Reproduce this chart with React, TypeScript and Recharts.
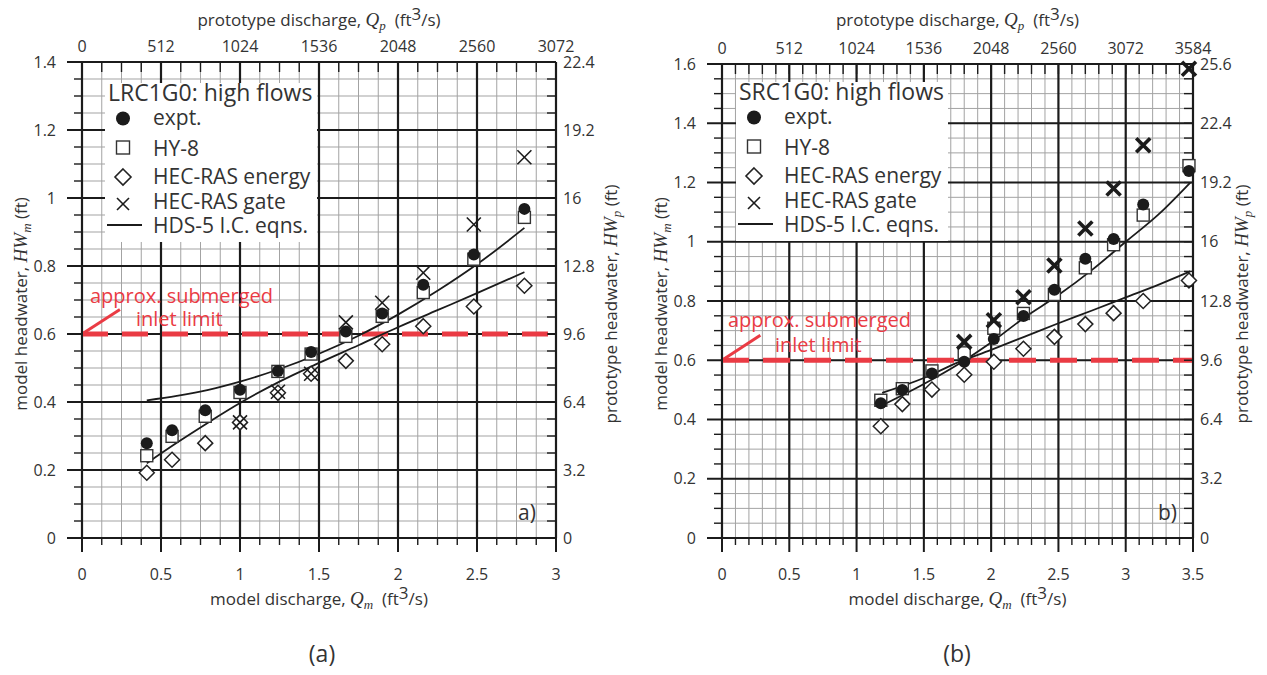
import React from 'react';
import { ComposedChart, Scatter, Line, XAxis, YAxis, CartesianGrid, ReferenceLine, Legend } from 'recharts';

const FONT = '"Open Sans", "Liberation Sans", sans-serif';
const MATH = '"Liberation Serif", "DejaVu Serif", serif';
const INK = '#1b1b1b';
const TXT = '#333';
const RED = '#ea3b44';
const Q_SCALE = 1024; // prototype / model discharge
const H_SCALE = 16; // prototype / model headwater

// (a) LRC1G0: model discharge Qm (ft3/s) vs model headwater HWm (ft)
const qmA = [0.41, 0.57, 0.78, 1.0, 1.24, 1.45, 1.67, 1.9, 2.16, 2.48, 2.8];
const exptA = [0.279, 0.317, 0.376, 0.436, 0.491, 0.547, 0.607, 0.66, 0.745, 0.834, 0.968];
const hy8A = [0.242, 0.299, 0.358, 0.428, 0.49, 0.541, 0.593, 0.652, 0.722, 0.82, 0.943];
const energyA = [0.192, 0.23, 0.279, 0.34, 0.427, 0.483, 0.521, 0.57, 0.623, 0.681, 0.742];
const gateQmA = [1.0, 1.24, 1.45, 1.67, 1.9, 2.16, 2.48, 2.8];
const gateA = [0.34, 0.43, 0.483, 0.634, 0.692, 0.78, 0.922, 1.12];
const hdsQmA = [0.41, 0.6, 0.8, 1.0, 1.25, 1.5, 1.75, 2.0, 2.25, 2.5, 2.8];
const hdsSubA = [0.405, 0.418, 0.436, 0.46, 0.497, 0.542, 0.595, 0.657, 0.727, 0.805, 0.912];
const hdsUnsubA = [0.22, 0.28, 0.34, 0.397, 0.46, 0.515, 0.567, 0.62, 0.67, 0.72, 0.782];

// (b) SRC1G0
const qmB = [1.18, 1.34, 1.56, 1.8, 2.02, 2.24, 2.47, 2.7, 2.91, 3.13, 3.47];
const exptB = [0.455, 0.5, 0.555, 0.595, 0.672, 0.749, 0.838, 0.943, 1.009, 1.126, 1.239];
const hy8B = [0.465, 0.504, 0.564, 0.625, 0.708, 0.758, 0.822, 0.912, 0.99, 1.09, 1.257];
const energyB = [0.377, 0.452, 0.501, 0.551, 0.595, 0.639, 0.679, 0.722, 0.759, 0.8, 0.869];
const gateQmB = [1.8, 2.02, 2.24, 2.47, 2.7, 2.91, 3.13, 3.47];
const gateB = [0.662, 0.735, 0.813, 0.92, 1.045, 1.18, 1.326, 1.584];
const hdsQmB = [1.19, 1.5, 1.75, 2.0, 2.25, 2.5, 2.75, 3.0, 3.25, 3.48];
const hdsSubB = [0.448, 0.52, 0.585, 0.66, 0.745, 0.82, 0.905, 1.0, 1.095, 1.2];
const hdsUnsubB = [0.49, 0.54, 0.592, 0.635, 0.68, 0.725, 0.768, 0.812, 0.856, 0.9];

// ticks
const xMajorA = [0, 0.5, 1, 1.5, 2, 2.5, 3];
const yMajorA = [0, 0.2, 0.4, 0.6, 0.8, 1, 1.2, 1.4];
const xMajorB = [0, 0.5, 1, 1.5, 2, 2.5, 3, 3.5];
const yMajorB = [0, 0.2, 0.4, 0.6, 0.8, 1, 1.2, 1.4, 1.6];

const legendNames = ['expt.', 'HY-8', 'HEC-RAS energy', 'HEC-RAS gate', 'HDS-5 I.C. eqns.'];

const range = (max: number, step: number) =>
  Array.from({ length: Math.round(max / step) + 1 }, (_, i) => +(i * step).toFixed(4));
const pts = (xs: number[], ys: number[]) => xs.map((x, i) => ({ x, y: ys[i] }));
const near = (arr: number[], v: number) => arr.some((m) => Math.abs(m - v) < 1e-6);
const fmt = (v: number) => String(Number(v.toFixed(2)));

const tickText = { fontFamily: FONT, fontSize: 16, fill: TXT };

const Dot = (p: any) => <circle cx={p.cx} cy={p.cy} r={6} fill={INK} />;
const Box = (p: any) => (
  <rect x={p.cx - 6} y={p.cy - 6} width={12} height={12} fill="#fff" stroke="#333" strokeWidth={1.4} />
);
const Diamond = (p: any) => (
  <polygon
    points={`${p.cx},${p.cy - 7.5} ${p.cx + 7.5},${p.cy} ${p.cx},${p.cy + 7.5} ${p.cx - 7.5},${p.cy}`}
    fill="#fff"
    stroke="#222"
    strokeWidth={1.5}
  />
);
const crossShape = (w: number) => (p: any) => (
  <g stroke={INK} strokeWidth={w}>
    <line x1={p.cx - 7} y1={p.cy - 7} x2={p.cx + 7} y2={p.cy + 7} />
    <line x1={p.cx - 7} y1={p.cy + 7} x2={p.cx + 7} y2={p.cy - 7} />
  </g>
);
const Nothing = () => <g />;

interface Spec {
  title: string;
  tag: string;
  left: number;
  width: number;
  topH: number;
  rightW: number;
  xMax: number;
  yMax: number;
  xMajor: number[];
  yMajor: number[];
  xStep: number;
  qm: number[];
  expt: number[];
  hy8: number[];
  energy: number[];
  gateQm: number[];
  gate: number[];
  hdsQm: number[];
  hdsSub: number[];
  hdsUnsub: number[];
  arrow: [number, number];
  dash: string;
  crossW: number;
  legLeft: number;
  legTop: number;
  note: [number, number, number, number];
  rTitleX: number;
}

function LegendBox({ title }: { title: string }) {
  const rows = [42, 73, 100.5, 126, 150];
  const mk = [35.5, 64.5, 94, 121, 142];
  return (
    <div style={{ width: 212, height: 159, background: '#fff' }}>
      <svg width={212} height={159} style={{ display: 'block', overflow: 'visible' }}>
        <text x={3} y={18} fontFamily={FONT} fontSize={23} fill={TXT}>{title}</text>
        <circle cx={18} cy={mk[0]} r={7} fill={INK} />
        <rect x={11.5} y={mk[1] - 6.5} width={13} height={13} fill="#fff" stroke="#333" strokeWidth={1.4} />
        <polygon points={`18,${mk[2] - 8} 26,${mk[2]} 18,${mk[2] + 8} 10,${mk[2]}`} fill="#fff" stroke="#222" strokeWidth={1.6} />
        <g stroke={INK} strokeWidth={1.6}>
          <line x1={12} y1={mk[3] - 6} x2={24} y2={mk[3] + 6} />
          <line x1={12} y1={mk[3] + 6} x2={24} y2={mk[3] - 6} />
        </g>
        <line x1={2} y1={mk[4]} x2={37} y2={mk[4]} stroke={INK} strokeWidth={1.8} />
        {legendNames.map((n, i) => (
          <text key={n} x={48} y={rows[i]} fontFamily={FONT} fontSize={21} fill={TXT}>{n}</text>
        ))}
      </svg>
    </div>
  );
}

function Panel({ s }: { s: Spec }) {
  const H = 600;
  const xMinor = range(s.xMax, s.xStep);
  const yMinor = range(s.yMax, 0.05);
  const cx = (82 + (s.width - s.rightW)) / 2;

  const bottomTick = (p: any) => {
    const v = p.payload.value;
    const m = near(s.xMajor, v);
    return (
      <g>
        <line x1={p.x} x2={p.x} y1={p.y} y2={p.y + (m ? 14 : 7)} stroke={INK} strokeWidth={m ? 2 : 1.4} />
        {m && <text x={p.x} y={p.y + 42} textAnchor="middle" {...tickText}>{fmt(v)}</text>}
      </g>
    );
  };
  const topTick = (p: any) => {
    const v = p.payload.value;
    const m = near(s.xMajor, v / Q_SCALE);
    return (
      <g>
        <line x1={p.x} x2={p.x} y1={p.y} y2={p.y + 10} stroke={INK} strokeWidth={1.4} />
        {m && <text x={p.x} y={p.y - 10} textAnchor="middle" {...tickText}>{Math.round(v)}</text>}
      </g>
    );
  };
  const leftTick = (p: any) => {
    const v = p.payload.value;
    const m = near(s.yMajor, v);
    return (
      <g>
        <line x1={p.x - (m ? 15 : 8)} x2={p.x} y1={p.y} y2={p.y} stroke={INK} strokeWidth={m ? 2 : 1.4} />
        {m && <text x={p.x - 26} y={p.y + 5.5} textAnchor="end" {...tickText}>{fmt(v)}</text>}
      </g>
    );
  };
  const rightTick = (p: any) => {
    const v = p.payload.value;
    const m = near(s.yMajor, v / H_SCALE);
    return (
      <g>
        <line x1={p.x - 9} x2={p.x} y1={p.y} y2={p.y} stroke={INK} strokeWidth={1.4} />
        {m && <text x={p.x + 7} y={p.y + 5.5} textAnchor="start" {...tickText}>{fmt(Number(v.toFixed(1)))}</text>}
      </g>
    );
  };
  const axisLine = { stroke: INK, strokeWidth: 2 };

  // expt. data in prototype units, carried by the top / right axes
  const protoExpt = pts(s.qm.map((q) => q * Q_SCALE), s.expt.map((h) => h * H_SCALE));

  return (
    <div style={{ position: 'absolute', left: s.left, top: 0, width: s.width, height: H }}>
      <ComposedChart width={s.width} height={H} margin={{ top: 0, right: 0, bottom: 0, left: 0 }} style={{ fontFamily: FONT }}>
        <XAxis xAxisId="b" type="number" dataKey="x" domain={[0, s.xMax]} ticks={xMinor} interval={0} height={62}
          tickSize={0} tickMargin={0} tickLine={false} axisLine={axisLine} tick={bottomTick} />
        <XAxis xAxisId="t" orientation="top" type="number" dataKey="x" domain={[0, s.xMax * Q_SCALE]} ticks={xMinor.map((v) => v * Q_SCALE)}
          interval={0} height={s.topH} tickSize={0} tickMargin={0} tickLine={false} axisLine={axisLine} tick={topTick} />
        <YAxis yAxisId="l" type="number" dataKey="y" domain={[0, s.yMax]} ticks={yMinor} interval={0} width={82}
          tickSize={0} tickMargin={0} tickLine={false} axisLine={axisLine} tick={leftTick} />
        <YAxis yAxisId="r" orientation="right" type="number" dataKey="y" domain={[0, s.yMax * H_SCALE]} ticks={yMinor.map((v) => v * H_SCALE)}
          interval={0} width={s.rightW} tickSize={0} tickMargin={0} tickLine={false} axisLine={axisLine} tick={rightTick} />
        <CartesianGrid xAxisId="b" yAxisId="l" stroke="#a3a3a3" strokeWidth={1} />
        {s.xMajor.map((v) => (
          <ReferenceLine key={'x' + v} xAxisId="b" yAxisId="l" x={v} stroke={INK} strokeWidth={2.2} />
        ))}
        {s.yMajor.map((v) => (
          <ReferenceLine key={'y' + v} xAxisId="b" yAxisId="l" y={v} stroke={INK} strokeWidth={2.2} />
        ))}
        <ReferenceLine xAxisId="b" yAxisId="l" y={0.6} stroke={RED} strokeWidth={5} strokeDasharray={s.dash} />
        <ReferenceLine xAxisId="b" yAxisId="l" segment={[{ x: 0, y: 0.6 }, { x: s.arrow[0], y: s.arrow[1] }]} stroke={RED} strokeWidth={3} />
        <Scatter xAxisId="t" yAxisId="r" data={protoExpt} shape={Nothing} legendType="none" isAnimationActive={false} />
        <Scatter xAxisId="b" yAxisId="l" name="HY-8" data={pts(s.qm, s.hy8)} shape={Box} isAnimationActive={false} />
        <Scatter xAxisId="b" yAxisId="l" name="HEC-RAS energy" data={pts(s.qm, s.energy)} shape={Diamond} isAnimationActive={false} />
        <Line xAxisId="b" yAxisId="l" data={pts(s.hdsQm, s.hdsSub)} dataKey="y" type="monotone" dot={false}
          stroke={INK} strokeWidth={1.8} isAnimationActive={false} />
        <Line xAxisId="b" yAxisId="l" data={pts(s.hdsQm, s.hdsUnsub)} dataKey="y" type="monotone" dot={false}
          stroke={INK} strokeWidth={1.8} isAnimationActive={false} />
        <Scatter xAxisId="b" yAxisId="l" name="expt." data={pts(s.qm, s.expt)} shape={Dot} isAnimationActive={false} />
        <Scatter xAxisId="b" yAxisId="l" name="HEC-RAS gate" data={pts(s.gateQm, s.gate)} shape={crossShape(s.crossW)} isAnimationActive={false} />
        <Legend layout="horizontal" verticalAlign="middle" align="center"
          wrapperStyle={{ left: s.legLeft, top: s.legTop, width: 212, height: 159 }}
          content={() => <LegendBox title={s.title} />} />
      </ComposedChart>
      <svg width={s.width} height={675} style={{ position: 'absolute', left: 0, top: 0, pointerEvents: 'none', overflow: 'visible' }}
        fontFamily={FONT} fill={TXT}>
        <text x={s.note[0]} y={s.note[1]} fontSize={20} fill={RED}>approx. submerged</text>
        <text x={s.note[2]} y={s.note[3]} fontSize={20} fill={RED}>inlet limit</text>
        <text x={518} y={520} fontSize={21}>{s.tag})</text>
        <text x={cx} y={26} textAnchor="middle" fontSize={17}>
          prototype discharge,{'\u00a0'}
          <tspan fontFamily={MATH} fontStyle="italic" fontSize={19}>Q</tspan>
          <tspan fontFamily={MATH} fontStyle="italic" fontSize={13} dy={4}>p</tspan>
          <tspan dy={-4}>{'\u00a0\u00a0(ft'}</tspan>
          <tspan dy={-6}>3</tspan>
          <tspan dy={6}>/s)</tspan>
        </text>
        <text x={cx} y={605} textAnchor="middle" fontSize={17}>
          model discharge,{'\u00a0'}
          <tspan fontFamily={MATH} fontStyle="italic" fontSize={19}>Q</tspan>
          <tspan fontFamily={MATH} fontStyle="italic" fontSize={13} dy={4}>m</tspan>
          <tspan dy={-4}>{'\u00a0\u00a0(ft'}</tspan>
          <tspan dy={-6}>3</tspan>
          <tspan dy={6}>/s)</tspan>
        </text>
        <text transform={`translate(27,304) rotate(-90)`} textAnchor="middle" fontSize={17}>
          model headwater,{'\u00a0'}
          <tspan fontFamily={MATH} fontStyle="italic" fontSize={19}>HW</tspan>
          <tspan fontFamily={MATH} fontStyle="italic" fontSize={13} dy={4}>m</tspan>
          <tspan dy={-4}>{'\u00a0(ft)'}</tspan>
        </text>
        <text transform={`translate(${s.rTitleX},304) rotate(-90)`} textAnchor="middle" fontSize={17}>
          prototype headwater,{'\u00a0'}
          <tspan fontFamily={MATH} fontStyle="italic" fontSize={19}>HW</tspan>
          <tspan fontFamily={MATH} fontStyle="italic" fontSize={13} dy={4}>p</tspan>
          <tspan dy={-4}>{'\u00a0(ft)'}</tspan>
        </text>
      </svg>
    </div>
  );
}

const specA: Spec = {
  title: 'LRC1G0: high flows', tag: 'a', left: 0, width: 640, topH: 62, rightW: 84,
  xMax: 3, yMax: 1.4, xMajor: xMajorA, yMajor: yMajorA, xStep: 0.125,
  qm: qmA, expt: exptA, hy8: hy8A, energy: energyA, gateQm: gateQmA, gate: gateA,
  hdsQm: hdsQmA, hdsSub: hdsSubA, hdsUnsub: hdsUnsubA,
  arrow: [0.24, 0.672], dash: '26 14', crossW: 1.6, legLeft: 105, legTop: 83,
  note: [90, 303, 136, 326], rTitleX: 617,
};

const specB: Spec = {
  title: 'SRC1G0: high flows', tag: 'b', left: 640, width: 627, topH: 64, rightW: 74,
  xMax: 3.5, yMax: 1.6, xMajor: xMajorB, yMajor: yMajorB, xStep: 0.1,
  qm: qmB, expt: exptB, hy8: hy8B, energy: energyB, gateQm: gateQmB, gate: gateB,
  hdsQm: hdsQmB, hdsSub: hdsSubB, hdsUnsub: hdsUnsubB,
  arrow: [0.285, 0.684], dash: '27 14', crossW: 3.6, legLeft: 96, legTop: 82,
  note: [88, 327, 135, 352], rTitleX: 608,
};

export default function App() {
  return (
    <div style={{ position: 'absolute', left: 0, top: 0, width: 1267, height: 675, background: '#fff', fontFamily: FONT }}>
      <Panel s={specA} />
      <Panel s={specB} />
      <svg width={1267} height={675} style={{ position: 'absolute', left: 0, top: 0, pointerEvents: 'none' }}>
        <text x={322} y={662} textAnchor="middle" fontFamily={FONT} fontSize={23} fill={TXT}>(a)</text>
        <text x={957} y={662} textAnchor="middle" fontFamily={FONT} fontSize={23} fill={TXT}>(b)</text>
      </svg>
    </div>
  );
}
